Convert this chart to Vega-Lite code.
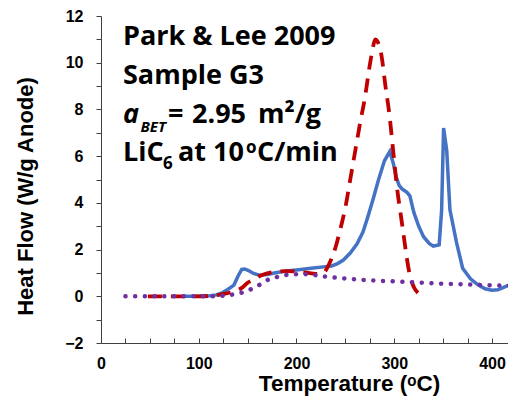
{
  "$schema": "https://vega.github.io/schema/vega-lite/v6.json",
  "width": 407,
  "height": 327,
  "autosize": {"type": "none"},
  "padding": {"left": 101, "top": 16, "right": 0, "bottom": 54},
  "background": "white",
  "config": {"view": {"stroke": null}},
  "datasets": {
    "curves": [
      {"series": "G3", "t": 85, "hf": 0}, {"series": "G3", "t": 100, "hf": 0}, {"series": "G3", "t": 112, "hf": 0.02}, {"series": "G3", "t": 118, "hf": 0.06},
      {"series": "G3", "t": 124, "hf": 0.15}, {"series": "G3", "t": 130, "hf": 0.3}, {"series": "G3", "t": 136, "hf": 0.48}, {"series": "G3", "t": 140, "hf": 0.85},
      {"series": "G3", "t": 144, "hf": 1.15}, {"series": "G3", "t": 147, "hf": 1.17}, {"series": "G3", "t": 151, "hf": 1.1}, {"series": "G3", "t": 156, "hf": 0.98},
      {"series": "G3", "t": 162, "hf": 0.9}, {"series": "G3", "t": 170, "hf": 0.93}, {"series": "G3", "t": 180, "hf": 1.02}, {"series": "G3", "t": 190, "hf": 1.08},
      {"series": "G3", "t": 200, "hf": 1.13}, {"series": "G3", "t": 215, "hf": 1.2}, {"series": "G3", "t": 230, "hf": 1.27}, {"series": "G3", "t": 236, "hf": 1.3},
      {"series": "G3", "t": 242, "hf": 1.4}, {"series": "G3", "t": 248, "hf": 1.55}, {"series": "G3", "t": 255, "hf": 1.85}, {"series": "G3", "t": 262, "hf": 2.25},
      {"series": "G3", "t": 268, "hf": 2.75}, {"series": "G3", "t": 273, "hf": 3.4}, {"series": "G3", "t": 278, "hf": 4.1}, {"series": "G3", "t": 284, "hf": 5.0},
      {"series": "G3", "t": 290, "hf": 5.8}, {"series": "G3", "t": 295.5, "hf": 6.2}, {"series": "G3", "t": 299, "hf": 5.7}, {"series": "G3", "t": 302, "hf": 5.1},
      {"series": "G3", "t": 305, "hf": 4.75}, {"series": "G3", "t": 308, "hf": 4.6}, {"series": "G3", "t": 313, "hf": 4.45}, {"series": "G3", "t": 316, "hf": 4.3},
      {"series": "G3", "t": 320, "hf": 3.6}, {"series": "G3", "t": 325, "hf": 3.0}, {"series": "G3", "t": 330, "hf": 2.55}, {"series": "G3", "t": 336, "hf": 2.25},
      {"series": "G3", "t": 340, "hf": 2.15}, {"series": "G3", "t": 346, "hf": 2.2}, {"series": "G3", "t": 348.5, "hf": 3.7}, {"series": "G3", "t": 350.5, "hf": 7.2},
      {"series": "G3", "t": 353.7, "hf": 6.25}, {"series": "G3", "t": 357, "hf": 3.7}, {"series": "G3", "t": 364, "hf": 2.25}, {"series": "G3", "t": 370, "hf": 1.2},
      {"series": "G3", "t": 378, "hf": 0.75}, {"series": "G3", "t": 386, "hf": 0.48}, {"series": "G3", "t": 393, "hf": 0.32}, {"series": "G3", "t": 400, "hf": 0.26},
      {"series": "G3", "t": 406, "hf": 0.28}, {"series": "G3", "t": 412, "hf": 0.38}, {"series": "G3", "t": 418, "hf": 0.5},
      {"series": "model", "t": 48, "hf": 0}, {"series": "model", "t": 60, "hf": 0}, {"series": "model", "t": 80, "hf": 0}, {"series": "model", "t": 100, "hf": 0},
      {"series": "model", "t": 115, "hf": 0.03}, {"series": "model", "t": 125, "hf": 0.1}, {"series": "model", "t": 134, "hf": 0.18}, {"series": "model", "t": 144, "hf": 0.36},
      {"series": "model", "t": 150, "hf": 0.58}, {"series": "model", "t": 156, "hf": 0.72}, {"series": "model", "t": 163, "hf": 0.88}, {"series": "model", "t": 170, "hf": 0.98},
      {"series": "model", "t": 180, "hf": 1.05}, {"series": "model", "t": 190, "hf": 1.08}, {"series": "model", "t": 200, "hf": 1.06}, {"series": "model", "t": 210, "hf": 1.01},
      {"series": "model", "t": 220, "hf": 0.96}, {"series": "model", "t": 227, "hf": 0.98}, {"series": "model", "t": 233, "hf": 1.35}, {"series": "model", "t": 240, "hf": 2.1},
      {"series": "model", "t": 245, "hf": 2.9}, {"series": "model", "t": 250, "hf": 3.8}, {"series": "model", "t": 255, "hf": 5.0}, {"series": "model", "t": 260, "hf": 6.2},
      {"series": "model", "t": 265, "hf": 7.4}, {"series": "model", "t": 270, "hf": 8.5}, {"series": "model", "t": 275, "hf": 9.9}, {"series": "model", "t": 278, "hf": 10.6},
      {"series": "model", "t": 280.5, "hf": 11.0}, {"series": "model", "t": 283, "hf": 10.9}, {"series": "model", "t": 287, "hf": 10.3}, {"series": "model", "t": 291, "hf": 9.0},
      {"series": "model", "t": 295, "hf": 7.8}, {"series": "model", "t": 299, "hf": 6.2}, {"series": "model", "t": 303, "hf": 4.6}, {"series": "model", "t": 307, "hf": 3.4},
      {"series": "model", "t": 310, "hf": 2.5}, {"series": "model", "t": 313, "hf": 1.6}, {"series": "model", "t": 316, "hf": 0.9}, {"series": "model", "t": 320, "hf": 0.4},
      {"series": "model", "t": 325, "hf": 0.12}, {"series": "model", "t": 331, "hf": 0.0},
      {"series": "baseline", "t": 25, "hf": 0}, {"series": "baseline", "t": 50, "hf": 0}, {"series": "baseline", "t": 75, "hf": 0}, {"series": "baseline", "t": 100, "hf": 0},
      {"series": "baseline", "t": 118, "hf": 0}, {"series": "baseline", "t": 128, "hf": 0.04}, {"series": "baseline", "t": 137, "hf": 0.09}, {"series": "baseline", "t": 146, "hf": 0.18},
      {"series": "baseline", "t": 155, "hf": 0.33}, {"series": "baseline", "t": 163, "hf": 0.51}, {"series": "baseline", "t": 170, "hf": 0.69}, {"series": "baseline", "t": 178, "hf": 0.8},
      {"series": "baseline", "t": 187, "hf": 0.9}, {"series": "baseline", "t": 197, "hf": 0.94}, {"series": "baseline", "t": 207, "hf": 0.95}, {"series": "baseline", "t": 217, "hf": 0.92},
      {"series": "baseline", "t": 226, "hf": 0.86}, {"series": "baseline", "t": 240, "hf": 0.8}, {"series": "baseline", "t": 256, "hf": 0.74}, {"series": "baseline", "t": 272, "hf": 0.69},
      {"series": "baseline", "t": 287, "hf": 0.66}, {"series": "baseline", "t": 303, "hf": 0.63}, {"series": "baseline", "t": 318, "hf": 0.6}, {"series": "baseline", "t": 333, "hf": 0.57},
      {"series": "baseline", "t": 348, "hf": 0.54}, {"series": "baseline", "t": 364, "hf": 0.52}, {"series": "baseline", "t": 379, "hf": 0.5}, {"series": "baseline", "t": 394, "hf": 0.48},
      {"series": "baseline", "t": 408, "hf": 0.46}, {"series": "baseline", "t": 418, "hf": 0.45}
    ],
    "notes": [
      {"kind": "main", "t": 22.5, "hf": 10.74, "label": "Park & Lee 2009"},
      {"kind": "main", "t": 22.5, "hf": 9.08, "label": "Sample G3"},
      {"kind": "main", "t": 68.5, "hf": 7.43, "label": "="},
      {"kind": "main", "t": 93.1, "hf": 7.43, "label": "2.95"},
      {"kind": "main", "t": 160.6, "hf": 7.43, "label": "m²/g"},
      {"kind": "main", "t": 22.5, "hf": 5.78, "label": "LiC"},
      {"kind": "main", "t": 78.8, "hf": 5.78, "label": "at 10"},
      {"kind": "main", "t": 159.6, "hf": 5.78, "label": "C/min"},
      {"kind": "italic", "t": 22.5, "hf": 7.43, "label": "a"},
      {"kind": "sub_italic", "t": 40.4, "hf": 7.04, "label": "BET"},
      {"kind": "small", "t": 63.4, "hf": 5.44, "label": "6"},
      {"kind": "small", "t": 148.3, "hf": 6.12, "label": "o"}
    ]
  },
  "encoding": {
    "x": {"field": "t", "type": "quantitative", "scale": {"domain": [0, 416.4], "nice": false, "zero": false},
      "axis": {
        "values": [0, 25, 50, 75, 100, 125, 150, 175, 200, 225, 250, 275, 300, 325, 350, 375, 400],
        "labelExpr": "datum.value % 100 === 0 ? datum.label : ''",
        "grid": false, "tickSize": -5, "tickColor": "#404040", "domainColor": "#404040",
        "labelFont": "Liberation Sans", "labelFontWeight": "bold", "labelFontSize": 16, "labelColor": "black",
        "labelPadding": 17, "labelFlush": false, "labelOverlap": false,
        "title": "Temperature (ᵒC)", "titleFont": "Liberation Sans", "titleFontSize": 22.5, "titleFontWeight": "bold", "titleColor": "black",
        "titleX": 248, "titleY": 47, "titleBaseline": "alphabetic", "titleAlign": "center"
      }},
    "y": {"field": "hf", "type": "quantitative", "scale": {"domain": [-2, 12], "nice": false, "zero": false},
      "axis": {
        "values": [-2, -1, 0, 1, 2, 3, 4, 5, 6, 7, 8, 9, 10, 11, 12],
        "labelExpr": "datum.value % 2 === 0 ? datum.label : ''",
        "grid": false, "tickSize": 5, "tickColor": "#404040", "domainColor": "#404040",
        "labelFont": "Liberation Sans", "labelFontWeight": "bold", "labelFontSize": 16, "labelColor": "black",
        "labelPadding": 13, "labelOverlap": false,
        "title": "Heat Flow (W/g Anode)", "titleFont": "Liberation Sans", "titleFontSize": 22, "titleFontWeight": "bold", "titleColor": "black",
        "titleX": -69, "titleY": 180, "titleBaseline": "alphabetic", "titleAlign": "center"
      }}
  },
  "layer": [
    {"mark": {"type": "rule", "color": "#BFBFBF", "strokeWidth": 1}, "encoding": {"x": null, "y": {"datum": 12}}},
    {"data": {"name": "curves"}, "transform": [{"filter": "datum.series === 'G3'"}],
      "mark": {"type": "line", "color": "#4472C4", "strokeWidth": 3.5, "clip": true}},
    {"data": {"name": "curves"}, "transform": [{"filter": "datum.series === 'model'"}],
      "mark": {"type": "line", "color": "#C00000", "strokeWidth": 3.8, "strokeDash": [14, 9], "interpolate": "monotone", "clip": true}},
    {"data": {"name": "curves"}, "transform": [{"filter": "datum.series === 'baseline'"}],
      "mark": {"type": "line", "color": "#7030A0", "strokeWidth": 4.5, "strokeDash": [0.1, 9.6], "strokeCap": "round", "interpolate": "monotone", "clip": true}},
    {"data": {"name": "notes"}, "transform": [{"filter": "datum.kind === 'main'"}],
      "mark": {"type": "text", "align": "left", "baseline": "alphabetic", "font": "Open Sans", "fontWeight": "bold", "fontSize": 27, "color": "black"},
      "encoding": {"text": {"field": "label"}}},
    {"data": {"name": "notes"}, "transform": [{"filter": "datum.kind === 'italic'"}],
      "mark": {"type": "text", "align": "left", "baseline": "alphabetic", "font": "Open Sans", "fontWeight": "bold", "fontStyle": "italic", "fontSize": 27, "color": "black"},
      "encoding": {"text": {"field": "label"}}},
    {"data": {"name": "notes"}, "transform": [{"filter": "datum.kind === 'sub_italic'"}],
      "mark": {"type": "text", "align": "left", "baseline": "alphabetic", "font": "Open Sans", "fontWeight": "bold", "fontStyle": "italic", "fontSize": 15, "color": "black"},
      "encoding": {"text": {"field": "label"}}},
    {"data": {"name": "notes"}, "transform": [{"filter": "datum.kind === 'small'"}],
      "mark": {"type": "text", "align": "left", "baseline": "alphabetic", "font": "Open Sans", "fontWeight": "bold", "fontSize": 17, "color": "black"},
      "encoding": {"text": {"field": "label"}}}
  ]
}
